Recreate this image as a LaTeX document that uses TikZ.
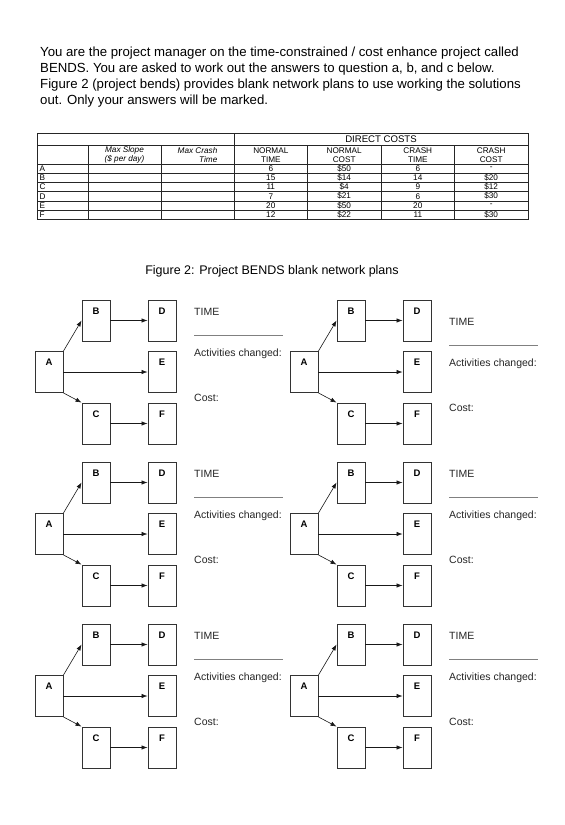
\documentclass[tikz,border=0pt]{standalone}
\usepackage{fontspec}
\setmainfont{Liberation Sans}
\usetikzlibrary{arrows.meta}
\newcommand\bendsnet[4]{%
  % #1 prefix, #2 x offset, #3 y offset (top of B), #4 extra text shift
  \node[actbox,label={[lbl]north:A}] (#1A) at (#2+49,#3+72) {};
  \node[actbox,label={[lbl]north:B}] (#1B) at (#2+96,#3+20.5) {};
  \node[actbox,label={[lbl]north:C}] (#1C) at (#2+96,#3+123.5) {};
  \node[actbox,label={[lbl]north:D}] (#1D) at (#2+162,#3+20.5) {};
  \node[actbox,label={[lbl]north:E}] (#1E) at (#2+162,#3+72) {};
  \node[actbox,label={[lbl]north:F}] (#1F) at (#2+162,#3+123.5) {};
  \draw[flow] (#1A.north east) -- (#1B.west);
  \draw[flow] (#1A.east) -- (#1E.west);
  \draw[flow] (#1A.south east) -- (#1C.north west);
  \draw[flow] (#1B) -- (#1D);
  \draw[flow] (#1C) -- (#1F);
  \node[note] (#1time) at (#2+194,#3+12+#4) {TIME};
  \coordinate (#1ls) at (#2+194,#3+35+#4);
  \coordinate (#1le) at (#2+283,#3+35+#4);
  \draw[answerline] (#1ls) -- (#1le);
  \node[note] (#1act) at (#2+194,#3+54+#4) {Activities changed:};
  \node[note] (#1cost) at (#2+194,#3+98+#4) {Cost:};
}
\begin{document}
\begin{tikzpicture}[x=1pt,y=-1pt,
  actbox/.style={draw=black!80, line width=0.9pt, minimum width=28pt, minimum height=41pt, inner sep=0pt},
  lbl/.style={font=\fontsize{9.5}{10}\selectfont\bfseries, anchor=north, yshift=-8pt, inner sep=0pt},
  flow/.style={-{Latex[length=6pt,width=4.4pt]}, line width=0.6pt, black!90},
  note/.style={font=\fontsize{10.5}{12}\selectfont, anchor=west, inner sep=0pt, text=black!85},
  answerline/.style={line width=0.8pt, black!50},
  body/.style={font=\fontsize{13.2}{16}\selectfont, inner sep=0pt, anchor=base west},
  tline/.style={line width=0.5pt, black!85},
  tcell/.style={font=\fontsize{8.2}{8.8}\selectfont, inner sep=0pt},
]
\useasboundingbox (0,0) rectangle (565,825);
\fill[white] (0,0) rectangle (565,825);

% paragraph
\node[body] (p1) at (40,56) {You are the project manager on the time-constrained / cost enhance project called};
\node[body] (p2) at (40,72) {BENDS. You are asked to work out the answers to question a, b, and c below.};
\node[body] (p3) at (40,88) {Figure 2 (project bends) provides blank network plans to use working the solutions};
\node[body] (p4) at (40,104) {out. Only your answers will be marked.};

% table
\draw[tline,line width=0.7pt] (37,133) rectangle (528,219.2);
\draw[tline] (234,133) -- (234,219.2);
\draw[tline] (37,145.5) -- (528,145.5);
\draw[tline] (37,164) -- (528,164);
\foreach \yy in {173.2,182.4,191.6,200.8,210} \draw[tline] (37,\yy) -- (528,\yy);
\foreach \xx in {88,161,307.5,381,454.5} \draw[tline] (\xx,145.5) -- (\xx,219.2);

\node[tcell,font=\fontsize{9.6}{10}\selectfont] (dc) at (381,139.5) {DIRECT COSTS};
\node[tcell,align=center] (h1) at (124.5,155) {\itshape Max Slope\\\itshape (\$ per day)};
\node[tcell,align=right] (h2) at (197.5,155) {\itshape Max Crash\\\itshape Time};
\node[tcell,align=center] (h3) at (270.8,155) {NORMAL\\TIME};
\node[tcell,align=center] (h4) at (344.2,155) {NORMAL\\COST};
\node[tcell,align=center] (h5) at (417.8,155) {CRASH\\TIME};
\node[tcell,align=center] (h6) at (491.2,155) {CRASH\\COST};

\foreach \nm/\va/\vb/\vc/\vd [count=\i] in {A/6/\$50/6/-, B/15/\$14/14/\$20, C/11/\$4/9/\$12, D/7/\$21/6/\$30, E/20/\$50/20/-, F/12/\$22/11/\$30}{
  \pgfmathsetmacro\ry{164+9.2*\i-4.6}
  \node[tcell,anchor=west] (r\i-0) at (39.5,\ry) {\nm};
  \node[tcell] (r\i-1) at (270.8,\ry) {\va};
  \node[tcell] (r\i-2) at (344.2,\ry) {\vb};
  \node[tcell] (r\i-3) at (417.8,\ry) {\vc};
  \node[tcell] (r\i-4) at (491.2,\ry) {\vd};
}

% caption
\node[body,font=\fontsize{12.5}{16}\selectfont,anchor=base] (cap) at (272,274.5) {Figure 2: Project BENDS blank network plans};

% networks
\bendsnet{a}{0}{300}{0}
\bendsnet{b}{255}{300}{10}
\bendsnet{c}{0}{462}{0}
\bendsnet{d}{255}{462}{0}
\bendsnet{e}{0}{624}{0}
\bendsnet{f}{255}{624}{0}
\end{tikzpicture}
\end{document}
